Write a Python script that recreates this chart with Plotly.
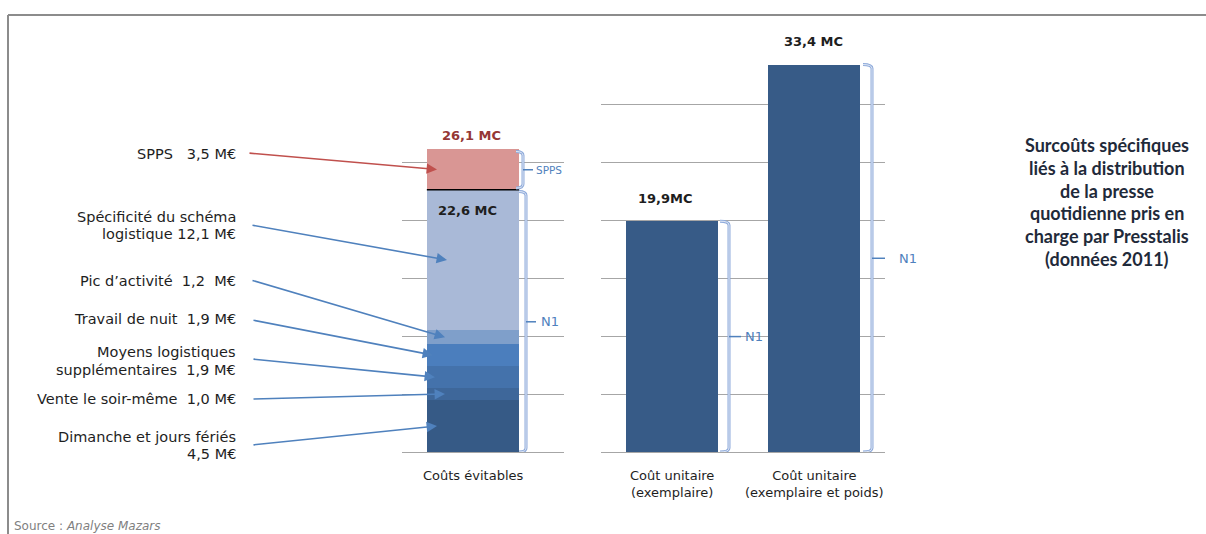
import plotly.graph_objects as go

# ---- Données (M€) ----
# Décomposition des coûts évitables, du bas vers le haut de la pile
segment_names = [
    "Dimanche et jours fériés",
    "Vente le soir-même",
    "Moyens logistiques supplémentaires",
    "Travail de nuit",
    "Pic d'activité",
    "Spécificité du schéma logistique",
    "SPPS",
]
segment_values = [4.5, 1.0, 1.9, 1.9, 1.2, 12.1, 3.5]
segment_texts = [
    "Dimanche et jours fériés<br>4,5 M€",
    "Vente le soir-même  1,0 M€",
    "Moyens logistiques<br>supplémentaires  1,9 M€",
    "Travail de nuit  1,9 M€",
    "Pic d’activité  1,2  M€",
    "Spécificité du schéma<br>logistique 12,1 M€",
    "SPPS   3,5 M€",
]
avoidable_category = "Coûts évitables"
avoidable_labels = ["22,6 MC", "26,1 MC"]   # sous-total N1, total avec SPPS

unit_categories = ["Coût unitaire<br>(exemplaire)", "Coût unitaire<br>(exemplaire et poids)"]
unit_values = [19.9, 33.4]
unit_labels = ["19,9MC", "33,4 MC"]

title_lines = [
    "Surcoûts spécifiques",
    "liés à la distribution",
    "de la presse",
    "quotidienne pris en",
    "charge par Presstalis",
    "(données 2011)",
]
source_text = "Source : <i>Analyse Mazars</i>"

# ---- Mise en page ----
W, H = 1206, 534
BASE_PX = 452          # ligne de base des barres
PX_PER_MEUR = 11.6     # échelle verticale commune
CAT_PX = 142           # largeur d'une catégorie
BAR_W = 0.65
LEFT_CENTER = 473
RIGHT_LEFT, RIGHT_RIGHT = 601, 885
RIGHT_CENTER0 = RIGHT_LEFT + CAT_PX / 2
LEFT_DOM = (402, 564)

seg_colors = ["#365a86", "#3e679a", "#4472ab", "#4b7ebd", "#7f9fca", "#a9b9d7", "#d99694"]
unit_color = "#375b87"
grid_color = "#a6a6a6"
bracket_col = "#8eaadb"
note_col = "#4f81bd"
text_col = "#1e1e1e"
TXT_FONT = "DejaVu Sans"


def px_x(px):
    return px / W


def px_y(py):
    return (H - py) / H


def lx(px):
    """pixel column -> left x-axis units"""
    return (px - LEFT_CENTER) / CAT_PX


def rx(px):
    """pixel column -> right x-axis units"""
    return (px - RIGHT_CENTER0) / CAT_PX


def vy(py):
    """pixel row -> value units"""
    return (BASE_PX - py) / PX_PER_MEUR


left_top = 28
right_top = 34
y_dom_bottom = px_y(BASE_PX)

fig = go.Figure()

# Barre empilée des coûts évitables
for name, val, col in zip(segment_names, segment_values, seg_colors):
    fig.add_trace(go.Bar(
        x=[0], y=[val], width=BAR_W, name=name,
        marker=dict(color=col, line=dict(width=0)),
        xaxis="x", yaxis="y", showlegend=False, hoverinfo="skip",
    ))

# Barres des coûts unitaires
fig.add_trace(go.Bar(
    x=[0, 1], y=unit_values, width=BAR_W,
    marker=dict(color=unit_color, line=dict(width=0)),
    xaxis="x2", yaxis="y2", showlegend=False, hoverinfo="skip",
))

n1_total = sum(segment_values[:-1])
grand_total = sum(segment_values)

shapes = []
annotations = []

# Séparation noire entre le bloc N1 et le SPPS
shapes.append(dict(type="line", xref="x", yref="y",
                   x0=-BAR_W / 2, x1=BAR_W / 2, y0=n1_total, y1=n1_total,
                   line=dict(color="#000000", width=1.5), layer="above"))


def add_bracket(xref, yref, bx, top, bottom, tick_len, label, label_px, label_size, hook):
    mid = (top + bottom) / 2
    d = 4 / PX_PER_MEUR
    path = (f"M {bx - hook},{top} Q {bx},{top} {bx},{top - d} "
            f"L {bx},{bottom + d} Q {bx},{bottom} {bx - hook},{bottom}")
    shapes.append(dict(type="path", xref=xref, yref=yref, path=path,
                       line=dict(color=bracket_col, width=3), layer="above"))
    shapes.append(dict(type="path", xref=xref, yref=yref, path=path,
                       line=dict(color="#e3eaf5", width=1), layer="above"))
    shapes.append(dict(type="line", xref=xref, yref=yref,
                       x0=bx, x1=bx + tick_len, y0=mid, y1=mid,
                       line=dict(color=note_col, width=1.5), layer="above"))
    annotations.append(dict(xref="paper", yref=yref, x=px_x(label_px), y=mid, text=label,
                            showarrow=False, xanchor="left", yanchor="middle",
                            font=dict(family=TXT_FONT, size=label_size, color=note_col)))


hook_l = 7 / CAT_PX
add_bracket("x", "y", lx(523), grand_total - 0.2, n1_total + 0.15, 10 / CAT_PX,
            "SPPS", 534, 10.5, hook_l)
add_bracket("x", "y", lx(526), n1_total - 0.15, 0, 10 / CAT_PX,
            "N1", 539, 13, hook_l)
add_bracket("x2", "y2", rx(729), unit_values[0], 0, 12 / CAT_PX,
            "N1", 743, 13, 9 / CAT_PX)
add_bracket("x2", "y2", rx(872), unit_values[1], 0, 13 / CAT_PX,
            "N1", 897, 13, 9 / CAT_PX)

# Étiquettes des segments (une annotation par ligne) et flèches
label_rows = [[437, 454], [399], [352, 370], [319], [281], [217, 234], [154]]
arrow_tails = [(252, 445), (252, 399), (252, 359), (252, 320), (251, 280), (251, 225), (248, 153)]
head_cols = [437, 445, 435, 433, 445, 447, 437]
cum = 0
for i, (txt, val) in enumerate(zip(segment_texts, segment_values)):
    mid = cum + val / 2
    cum += val
    for line, row in zip(txt.split("<br>"), label_rows[i]):
        annotations.append(dict(xref="paper", yref="paper", x=px_x(238), y=px_y(row),
                                text=line, showarrow=False, xanchor="right", yanchor="middle",
                                align="right",
                                font=dict(family=TXT_FONT, size=14.5, color=text_col)))
    arrow_col = "#c0504d" if i == len(segment_values) - 1 else "#4f81bd"
    tx, ty = arrow_tails[i]
    annotations.append(dict(xref="x", yref="y", axref="x", ayref="y",
                            x=lx(head_cols[i]), y=mid, ax=lx(tx), ay=vy(ty),
                            text="", showarrow=True, arrowhead=2, arrowsize=1.3,
                            arrowwidth=1.6, arrowcolor=arrow_col, standoff=0))

# Valeurs
annotations.append(dict(xref="x", yref="y", x=lx(471), y=grand_total, yshift=14,
                        text=avoidable_labels[1], showarrow=False, yanchor="middle",
                        font=dict(family=TXT_FONT, size=13, color="#953735", weight="bold")))
annotations.append(dict(xref="x", yref="y", x=lx(467.5), y=n1_total, yshift=-21,
                        text=avoidable_labels[0], showarrow=False, yanchor="middle",
                        font=dict(family=TXT_FONT, size=13, color=text_col, weight="bold")))
for i, (v, lab, cx) in enumerate(zip(unit_values, unit_labels, [665, 813])):
    annotations.append(dict(xref="x2", yref="y2", x=rx(cx), y=v, yshift=23,
                            text=lab, showarrow=False, yanchor="middle",
                            font=dict(family=TXT_FONT, size=13, color=text_col, weight="bold")))

# Libellés des catégories
annotations.append(dict(xref="x", yref="paper", x=0, y=px_y(466), text=avoidable_category,
                        showarrow=False, yanchor="top",
                        font=dict(family=TXT_FONT, size=13, color=text_col)))
for i, cat in enumerate(unit_categories):
    annotations.append(dict(xref="x2", yref="paper", x=i, y=px_y(466), text=cat,
                            showarrow=False, yanchor="top", align="center",
                            font=dict(family=TXT_FONT, size=13, color=text_col)))

# Titre à droite
for k, line in enumerate(title_lines):
    annotations.append(dict(xref="paper", yref="paper", x=px_x(1107), y=px_y(145 + 22.8 * k),
                            text=line, showarrow=False, xanchor="center", yanchor="middle",
                            font=dict(family="Lato", size=18, color="#1f2a3a", weight="bold")))

# Source
annotations.append(dict(xref="paper", yref="paper", x=px_x(12), y=px_y(526), text=source_text,
                        showarrow=False, xanchor="left", yanchor="middle",
                        font=dict(family=TXT_FONT, size=12, color="#7f7f7f")))

# Cadre
shapes.append(dict(type="line", xref="paper", yref="paper", x0=px_x(8), x1=1.01,
                   y0=px_y(15), y1=px_y(15), line=dict(color="#8c8c8c", width=2)))
shapes.append(dict(type="line", xref="paper", yref="paper", x0=px_x(8), x1=px_x(8),
                   y0=px_y(15), y1=-0.01, line=dict(color="#8c8c8c", width=2)))

axis_y = dict(dtick=5, tick0=0, showgrid=True, gridcolor=grid_color, gridwidth=1,
              zeroline=True, zerolinecolor=grid_color, zerolinewidth=1,
              showticklabels=False, ticks="", showline=False)

fig.update_layout(
    width=W, height=H,
    margin=dict(l=0, r=0, t=0, b=0),
    paper_bgcolor="white", plot_bgcolor="rgba(0,0,0,0)",
    barmode="stack",
    xaxis=dict(domain=[px_x(LEFT_DOM[0]), px_x(LEFT_DOM[1])],
               range=[lx(LEFT_DOM[0]), lx(LEFT_DOM[1])], visible=False, anchor="y"),
    yaxis=dict(domain=[y_dom_bottom, px_y(BASE_PX - left_top * PX_PER_MEUR)],
               range=[0, left_top], anchor="x", **axis_y),
    xaxis2=dict(domain=[px_x(RIGHT_LEFT), px_x(RIGHT_RIGHT)],
                range=[-0.5, 1.5], visible=False, anchor="y2"),
    yaxis2=dict(domain=[y_dom_bottom, px_y(BASE_PX - right_top * PX_PER_MEUR)],
                range=[0, right_top], anchor="x2", **axis_y),
    shapes=shapes,
    annotations=annotations,
    showlegend=False,
)

fig.write_html("out.html")
